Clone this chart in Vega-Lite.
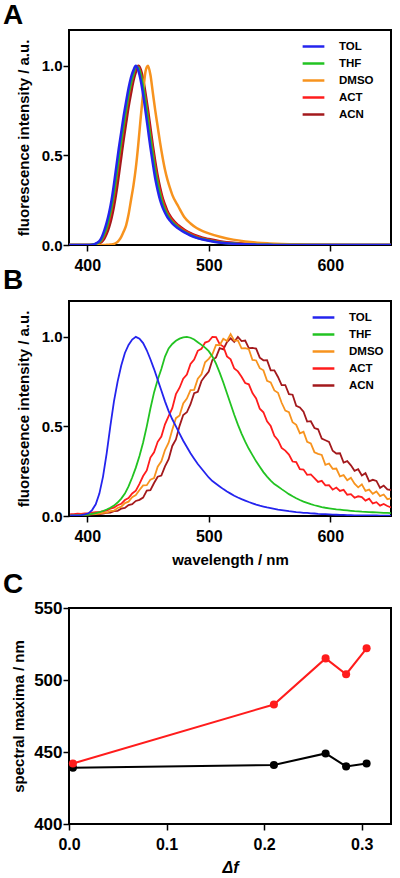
{
"$schema": "https://vega.github.io/schema/vega-lite/v6.json",
"padding": {"left": 2, "top": 1, "right": 0, "bottom": 0},
"background": "white",
"datasets": {
"a": [
{"w":385,"TOL":0,"THF":0,"DMSO":0,"ACT":0,"ACN":0},
{"w":395,"TOL":0,"THF":0,"DMSO":0,"ACT":0,"ACN":0},
{"w":400,"TOL":0,"THF":0,"DMSO":0,"ACT":0,"ACN":0},
{"w":404,"TOL":0.002,"THF":0.001,"DMSO":0,"ACT":0.001,"ACN":0},
{"w":406,"TOL":0.005,"THF":0.004,"DMSO":0,"ACT":0.003,"ACN":0.002},
{"w":408,"TOL":0.012,"THF":0.009,"DMSO":0,"ACT":0.007,"ACN":0.005},
{"w":410,"TOL":0.022,"THF":0.017,"DMSO":0,"ACT":0.014,"ACN":0.01},
{"w":412,"TOL":0.045,"THF":0.033,"DMSO":0,"ACT":0.027,"ACN":0.018},
{"w":414,"TOL":0.08,"THF":0.062,"DMSO":0,"ACT":0.052,"ACN":0.035},
{"w":416,"TOL":0.125,"THF":0.1,"DMSO":0.001,"ACT":0.09,"ACN":0.062},
{"w":418,"TOL":0.18,"THF":0.152,"DMSO":0.002,"ACT":0.135,"ACN":0.1},
{"w":420,"TOL":0.25,"THF":0.215,"DMSO":0.003,"ACT":0.195,"ACN":0.15},
{"w":422,"TOL":0.34,"THF":0.295,"DMSO":0.006,"ACT":0.27,"ACN":0.215},
{"w":424,"TOL":0.44,"THF":0.39,"DMSO":0.012,"ACT":0.365,"ACN":0.295},
{"w":426,"TOL":0.54,"THF":0.49,"DMSO":0.025,"ACT":0.465,"ACN":0.39},
{"w":428,"TOL":0.63,"THF":0.585,"DMSO":0.045,"ACT":0.565,"ACN":0.49},
{"w":430,"TOL":0.72,"THF":0.675,"DMSO":0.075,"ACT":0.655,"ACN":0.59},
{"w":432,"TOL":0.8,"THF":0.76,"DMSO":0.11,"ACT":0.745,"ACN":0.68},
{"w":434,"TOL":0.875,"THF":0.84,"DMSO":0.17,"ACT":0.825,"ACN":0.77},
{"w":436,"TOL":0.935,"THF":0.905,"DMSO":0.25,"ACT":0.895,"ACN":0.845},
{"w":438,"TOL":0.975,"THF":0.955,"DMSO":0.33,"ACT":0.95,"ACN":0.915},
{"w":440,"TOL":1.0,"THF":0.997,"DMSO":0.43,"ACT":0.99,"ACN":0.965},
{"w":442,"TOL":0.975,"THF":0.99,"DMSO":0.56,"ACT":0.995,"ACN":1.0},
{"w":444,"TOL":0.92,"THF":0.95,"DMSO":0.71,"ACT":0.96,"ACN":0.98},
{"w":446,"TOL":0.84,"THF":0.88,"DMSO":0.85,"ACT":0.895,"ACN":0.925},
{"w":448,"TOL":0.745,"THF":0.795,"DMSO":0.97,"ACT":0.815,"ACN":0.845},
{"w":450,"TOL":0.645,"THF":0.695,"DMSO":1.0,"ACT":0.72,"ACN":0.755},
{"w":452,"TOL":0.545,"THF":0.595,"DMSO":0.95,"ACT":0.62,"ACN":0.655},
{"w":454,"TOL":0.455,"THF":0.5,"DMSO":0.85,"ACT":0.525,"ACN":0.555},
{"w":456,"TOL":0.37,"THF":0.41,"DMSO":0.75,"ACT":0.435,"ACN":0.465},
{"w":458,"TOL":0.305,"THF":0.34,"DMSO":0.66,"ACT":0.36,"ACN":0.385},
{"w":460,"TOL":0.25,"THF":0.28,"DMSO":0.57,"ACT":0.3,"ACN":0.32},
{"w":462,"TOL":0.21,"THF":0.23,"DMSO":0.49,"ACT":0.25,"ACN":0.265},
{"w":464,"TOL":0.18,"THF":0.195,"DMSO":0.42,"ACT":0.21,"ACN":0.225},
{"w":466,"TOL":0.155,"THF":0.167,"DMSO":0.365,"ACT":0.18,"ACN":0.19},
{"w":468,"TOL":0.137,"THF":0.146,"DMSO":0.32,"ACT":0.157,"ACN":0.165},
{"w":470,"TOL":0.12,"THF":0.128,"DMSO":0.28,"ACT":0.138,"ACN":0.145},
{"w":475,"TOL":0.092,"THF":0.097,"DMSO":0.215,"ACT":0.105,"ACN":0.11},
{"w":480,"TOL":0.07,"THF":0.074,"DMSO":0.155,"ACT":0.081,"ACN":0.085},
{"w":485,"TOL":0.053,"THF":0.056,"DMSO":0.12,"ACT":0.062,"ACN":0.066},
{"w":490,"TOL":0.04,"THF":0.042,"DMSO":0.095,"ACT":0.048,"ACN":0.052},
{"w":495,"TOL":0.031,"THF":0.033,"DMSO":0.078,"ACT":0.037,"ACN":0.041},
{"w":500,"TOL":0.024,"THF":0.026,"DMSO":0.065,"ACT":0.029,"ACN":0.033},
{"w":510,"TOL":0.013,"THF":0.014,"DMSO":0.045,"ACT":0.017,"ACN":0.02},
{"w":520,"TOL":0.007,"THF":0.008,"DMSO":0.03,"ACT":0.01,"ACN":0.012},
{"w":530,"TOL":0.004,"THF":0.004,"DMSO":0.02,"ACT":0.006,"ACN":0.007},
{"w":540,"TOL":0.002,"THF":0.002,"DMSO":0.013,"ACT":0.003,"ACN":0.004},
{"w":550,"TOL":0.001,"THF":0.001,"DMSO":0.009,"ACT":0.002,"ACN":0.002},
{"w":560,"TOL":0,"THF":0,"DMSO":0.006,"ACT":0.001,"ACN":0.001},
{"w":580,"TOL":0,"THF":0,"DMSO":0.003,"ACT":0,"ACN":0},
{"w":600,"TOL":0,"THF":0,"DMSO":0.001,"ACT":0,"ACN":0},
{"w":620,"TOL":0,"THF":0,"DMSO":0,"ACT":0,"ACN":0},
{"w":650,"TOL":0,"THF":0,"DMSO":0,"ACT":0,"ACN":0}
],
"b": [
{"w":386,"TOL":0.003,"THF":0.002,"DMSO":0.004,"ACT":0.010,"ACN":0.003},
{"w":389,"TOL":0.004,"THF":0.003,"DMSO":0.005,"ACT":0.011,"ACN":0.004},
{"w":392,"TOL":0.004,"THF":0.004,"DMSO":0.006,"ACT":0.013,"ACN":0.004},
{"w":395,"TOL":0.005,"THF":0.005,"DMSO":0.007,"ACT":0.012,"ACN":0.005},
{"w":398,"TOL":0.009,"THF":0.006,"DMSO":0.008,"ACT":0.015,"ACN":0.006},
{"w":401,"TOL":0.015,"THF":0.008,"DMSO":0.009,"ACT":0.015,"ACN":0.008},
{"w":404,"TOL":0.033,"THF":0.012,"DMSO":0.011,"ACT":0.019,"ACN":0.008},
{"w":407,"TOL":0.065,"THF":0.016,"DMSO":0.011,"ACT":0.021,"ACN":0.010},
{"w":410,"TOL":0.125,"THF":0.021,"DMSO":0.013,"ACT":0.021,"ACN":0.011},
{"w":413,"TOL":0.22,"THF":0.028,"DMSO":0.017,"ACT":0.027,"ACN":0.014},
{"w":416,"TOL":0.35,"THF":0.036,"DMSO":0.019,"ACT":0.030,"ACN":0.017},
{"w":419,"TOL":0.50,"THF":0.046,"DMSO":0.027,"ACT":0.041,"ACN":0.019},
{"w":422,"TOL":0.64,"THF":0.058,"DMSO":0.030,"ACT":0.047,"ACN":0.027},
{"w":425,"TOL":0.75,"THF":0.075,"DMSO":0.045,"ACT":0.060,"ACN":0.029},
{"w":428,"TOL":0.84,"THF":0.097,"DMSO":0.052,"ACT":0.068,"ACN":0.041},
{"w":431,"TOL":0.91,"THF":0.125,"DMSO":0.072,"ACT":0.089,"ACN":0.045},
{"w":434,"TOL":0.955,"THF":0.165,"DMSO":0.080,"ACT":0.100,"ACN":0.061},
{"w":437,"TOL":0.985,"THF":0.215,"DMSO":0.105,"ACT":0.126,"ACN":0.066},
{"w":440,"TOL":1.0,"THF":0.27,"DMSO":0.117,"ACT":0.141,"ACN":0.084},
{"w":443,"TOL":0.99,"THF":0.335,"DMSO":0.145,"ACT":0.179,"ACN":0.090},
{"w":446,"TOL":0.965,"THF":0.41,"DMSO":0.171,"ACT":0.223,"ACN":0.103},
{"w":449,"TOL":0.925,"THF":0.50,"DMSO":0.172,"ACT":0.254,"ACN":0.142},
{"w":452,"TOL":0.875,"THF":0.60,"DMSO":0.203,"ACT":0.326,"ACN":0.144},
{"w":455,"TOL":0.82,"THF":0.69,"DMSO":0.212,"ACT":0.356,"ACN":0.184},
{"w":458,"TOL":0.76,"THF":0.76,"DMSO":0.275,"ACT":0.414,"ACN":0.219},
{"w":461,"TOL":0.70,"THF":0.82,"DMSO":0.305,"ACT":0.443,"ACN":0.226},
{"w":464,"TOL":0.64,"THF":0.89,"DMSO":0.368,"ACT":0.512,"ACN":0.277},
{"w":467,"TOL":0.585,"THF":0.935,"DMSO":0.409,"ACT":0.557,"ACN":0.317},
{"w":470,"TOL":0.54,"THF":0.96,"DMSO":0.482,"ACT":0.602,"ACN":0.391},
{"w":473,"TOL":0.50,"THF":0.978,"DMSO":0.546,"ACT":0.680,"ACN":0.427},
{"w":476,"TOL":0.46,"THF":0.99,"DMSO":0.561,"ACT":0.716,"ACN":0.503},
{"w":479,"TOL":0.42,"THF":0.997,"DMSO":0.628,"ACT":0.766,"ACN":0.564},
{"w":482,"TOL":0.385,"THF":1.0,"DMSO":0.655,"ACT":0.789,"ACN":0.579},
{"w":485,"TOL":0.35,"THF":0.995,"DMSO":0.703,"ACT":0.849,"ACN":0.624},
{"w":488,"TOL":0.32,"THF":0.985,"DMSO":0.704,"ACT":0.873,"ACN":0.685},
{"w":491,"TOL":0.29,"THF":0.97,"DMSO":0.766,"ACT":0.922,"ACN":0.693},
{"w":494,"TOL":0.265,"THF":0.955,"DMSO":0.791,"ACT":0.933,"ACN":0.753},
{"w":497,"TOL":0.24,"THF":0.94,"DMSO":0.858,"ACT":0.968,"ACN":0.781},
{"w":500,"TOL":0.215,"THF":0.92,"DMSO":0.877,"ACT":0.975,"ACN":0.806},
{"w":503,"TOL":0.195,"THF":0.89,"DMSO":0.903,"ACT":1.0,"ACN":0.871},
{"w":506,"TOL":0.18,"THF":0.85,"DMSO":0.955,"ACT":0.998,"ACN":0.885},
{"w":509,"TOL":0.165,"THF":0.80,"DMSO":0.953,"ACT":0.959,"ACN":0.937},
{"w":512,"TOL":0.15,"THF":0.745,"DMSO":0.989,"ACT":0.946,"ACN":0.930},
{"w":515,"TOL":0.137,"THF":0.685,"DMSO":0.977,"ACT":0.891,"ACN":0.971},
{"w":518,"TOL":0.125,"THF":0.625,"DMSO":1.015,"ACT":0.874,"ACN":0.992},
{"w":521,"TOL":0.113,"THF":0.565,"DMSO":0.979,"ACT":0.823,"ACN":0.972},
{"w":524,"TOL":0.103,"THF":0.51,"DMSO":0.980,"ACT":0.807,"ACN":0.999},
{"w":527,"TOL":0.094,"THF":0.46,"DMSO":0.936,"ACT":0.777,"ACN":0.976},
{"w":530,"TOL":0.086,"THF":0.415,"DMSO":0.937,"ACT":0.742,"ACN":0.979},
{"w":533,"TOL":0.078,"THF":0.375,"DMSO":0.931,"ACT":0.735,"ACN":0.937},
{"w":536,"TOL":0.071,"THF":0.34,"DMSO":0.871,"ACT":0.686,"ACN":0.938},
{"w":539,"TOL":0.064,"THF":0.305,"DMSO":0.868,"ACT":0.656,"ACN":0.934},
{"w":542,"TOL":0.058,"THF":0.275,"DMSO":0.825,"ACT":0.599,"ACN":0.884},
{"w":545,"TOL":0.053,"THF":0.245,"DMSO":0.813,"ACT":0.579,"ACN":0.869},
{"w":548,"TOL":0.048,"THF":0.22,"DMSO":0.754,"ACT":0.528,"ACN":0.870},
{"w":551,"TOL":0.044,"THF":0.198,"DMSO":0.746,"ACT":0.502,"ACN":0.813},
{"w":554,"TOL":0.040,"THF":0.178,"DMSO":0.701,"ACT":0.448,"ACN":0.813},
{"w":557,"TOL":0.036,"THF":0.165,"DMSO":0.688,"ACT":0.423,"ACN":0.776},
{"w":560,"TOL":0.033,"THF":0.15,"DMSO":0.632,"ACT":0.380,"ACN":0.731},
{"w":563,"TOL":0.030,"THF":0.136,"DMSO":0.588,"ACT":0.365,"ACN":0.731},
{"w":566,"TOL":0.027,"THF":0.122,"DMSO":0.580,"ACT":0.343,"ACN":0.680},
{"w":569,"TOL":0.025,"THF":0.11,"DMSO":0.523,"ACT":0.304,"ACN":0.677},
{"w":572,"TOL":0.022,"THF":0.099,"DMSO":0.509,"ACT":0.301,"ACN":0.615},
{"w":575,"TOL":0.020,"THF":0.089,"DMSO":0.462,"ACT":0.261,"ACN":0.606},
{"w":578,"TOL":0.018,"THF":0.08,"DMSO":0.470,"ACT":0.259,"ACN":0.582},
{"w":581,"TOL":0.017,"THF":0.073,"DMSO":0.414,"ACT":0.230,"ACN":0.527},
{"w":584,"TOL":0.015,"THF":0.066,"DMSO":0.405,"ACT":0.232,"ACN":0.529},
{"w":587,"TOL":0.014,"THF":0.06,"DMSO":0.356,"ACT":0.212,"ACN":0.491},
{"w":590,"TOL":0.012,"THF":0.055,"DMSO":0.347,"ACT":0.190,"ACN":0.484},
{"w":593,"TOL":0.011,"THF":0.05,"DMSO":0.341,"ACT":0.196,"ACN":0.432},
{"w":596,"TOL":0.010,"THF":0.046,"DMSO":0.286,"ACT":0.171,"ACN":0.423},
{"w":599,"TOL":0.009,"THF":0.043,"DMSO":0.293,"ACT":0.172,"ACN":0.414},
{"w":602,"TOL":0.008,"THF":0.04,"DMSO":0.263,"ACT":0.147,"ACN":0.364},
{"w":605,"TOL":0.007,"THF":0.037,"DMSO":0.265,"ACT":0.159,"ACN":0.349},
{"w":608,"TOL":0.006,"THF":0.035,"DMSO":0.221,"ACT":0.140,"ACN":0.350},
{"w":611,"TOL":0.006,"THF":0.033,"DMSO":0.228,"ACT":0.146,"ACN":0.298},
{"w":614,"TOL":0.005,"THF":0.031,"DMSO":0.199,"ACT":0.119,"ACN":0.306},
{"w":617,"TOL":0.005,"THF":0.029,"DMSO":0.213,"ACT":0.122,"ACN":0.283},
{"w":620,"TOL":0.004,"THF":0.027,"DMSO":0.180,"ACT":0.102,"ACN":0.252},
{"w":623,"TOL":0.004,"THF":0.026,"DMSO":0.160,"ACT":0.110,"ACN":0.261},
{"w":626,"TOL":0.004,"THF":0.024,"DMSO":0.177,"ACT":0.106,"ACN":0.226},
{"w":629,"TOL":0.003,"THF":0.023,"DMSO":0.140,"ACT":0.086,"ACN":0.239},
{"w":632,"TOL":0.003,"THF":0.022,"DMSO":0.147,"ACT":0.097,"ACN":0.194},
{"w":635,"TOL":0.003,"THF":0.021,"DMSO":0.124,"ACT":0.070,"ACN":0.202},
{"w":638,"TOL":0.003,"THF":0.02,"DMSO":0.137,"ACT":0.077,"ACN":0.196},
{"w":641,"TOL":0.002,"THF":0.019,"DMSO":0.111,"ACT":0.058,"ACN":0.157},
{"w":644,"TOL":0.002,"THF":0.018,"DMSO":0.120,"ACT":0.067,"ACN":0.170},
{"w":647,"TOL":0.002,"THF":0.017,"DMSO":0.094,"ACT":0.056,"ACN":0.148},
{"w":650,"TOL":0.002,"THF":0.016,"DMSO":0.098,"ACT":0.048,"ACN":0.145}
],
"c": [
{"solvent":"TOL","df":0.004,"abs":439,"em":442},
{"solvent":"THF","df":0.21,"abs":441,"em":483},
{"solvent":"DMSO","df":0.263,"abs":449,"em":515},
{"solvent":"ACT","df":0.284,"abs":440,"em":504},
{"solvent":"ACN","df":0.305,"abs":442,"em":522}
]
},
"config": {
"font": "Liberation Sans",
"view": {"stroke": "black", "strokeWidth": 2},
"axis": {"domain": false, "grid": false, "ticks": true, "labelFlush": false, "tickColor": "black", "tickWidth": 1.5, "tickSize": 6, "labelFont": "Liberation Sans", "labelFontWeight": "bold", "labelColor": "black", "labelFontSize": 16, "titleFont": "Liberation Sans", "titleFontWeight": "bold", "titleColor": "black", "titleFontSize": 15},
"legend": {"symbolType": "M-1.5,0H1.5", "symbolSize": 210, "symbolStrokeWidth": 2.5, "labelFont": "Liberation Sans", "labelFontSize": 11.5, "labelFontWeight": "bold", "labelColor": "black", "labelOffset": 17, "rowPadding": 3, "padding": 0},
"title": {"anchor": "start", "frame": "group", "dx": -66, "fontSize": 28, "fontWeight": "bold", "font": "Liberation Sans", "baseline": "alphabetic", "color": "black"}
},
"bounds": "flush",
"spacing": 56,
"resolve": {"scale": {"color": "independent"}, "legend": {"color": "independent"}},
"vconcat": [
{
"width": 322, "height": 215,
"title": {"text": "A", "offset": 0},
"data": {"name": "a"},
"transform": [{"fold": ["ACN","ACT","DMSO","THF","TOL"], "as": ["s","v"]}],
"mark": {"type": "line", "strokeWidth": 2.5, "clip": true, "interpolate": "monotone"},
"encoding": {
"x": {"field": "w", "type": "quantitative", "scale": {"domain": [385, 650], "nice": false, "zero": false}, "axis": {"values": [400, 500, 600], "title": null, "labelPadding": 6}},
"y": {"field": "v", "type": "quantitative", "scale": {"domain": [0, 1.2], "nice": false}, "axis": {"values": [0, 0.5, 1], "format": ".1f", "title": "fluorescence intensity / a.u.", "labelFontSize": 15, "labelPadding": 1, "titlePadding": 10}},
"color": {"field": "s", "type": "nominal", "scale": {"domain": ["TOL","THF","DMSO","ACT","ACN"], "range": ["#2424ee","#22c322","#f7931e","#ff1c1c","#a3191c"]}, "legend": {"orient": "none", "legendX": 236, "legendY": 8, "title": null}}
}
},
{
"bounds": "flush",
"spacing": 92,
"resolve": {"scale": {"color": "independent"}, "legend": {"color": "independent"}},
"vconcat": [
{
"width": 322, "height": 215,
"title": {"text": "B", "offset": 6},
"data": {"name": "b"},
"transform": [{"fold": ["ACN","ACT","DMSO","THF","TOL"], "as": ["s","v"]}],
"mark": {"type": "line", "strokeWidth": 1.8, "clip": true},
"encoding": {
"x": {"field": "w", "type": "quantitative", "scale": {"domain": [385, 650], "nice": false, "zero": false}, "axis": {"values": [400, 500, 600], "title": "wavelength / nm", "labelPadding": 6, "titlePadding": 8}},
"y": {"field": "v", "type": "quantitative", "scale": {"domain": [0, 1.2], "nice": false}, "axis": {"values": [0, 0.5, 1], "format": ".1f", "title": "fluorescence intensity / a.u.", "labelFontSize": 15, "labelPadding": 1, "titlePadding": 10}},
"color": {"field": "s", "type": "nominal", "scale": {"domain": ["TOL","THF","DMSO","ACT","ACN"], "range": ["#2424ee","#22c322","#f7931e","#ff1c1c","#a3191c"]}, "legend": {"orient": "none", "legendX": 246, "legendY": 8, "title": null}}
}
},
{
"width": 322, "height": 216,
"title": {"text": "C", "offset": 0},
"data": {"name": "c"},
"transform": [{"fold": ["abs","em"], "as": ["k","val"]}],
"encoding": {
"x": {"field": "df", "type": "quantitative", "scale": {"domain": [0, 0.33], "nice": false}, "axis": {"values": [0, 0.1, 0.2, 0.3], "format": ".1f", "title": "Δf", "titleFontStyle": "italic", "titleFontSize": 16, "labelPadding": 6, "titlePadding": 7}},
"y": {"field": "val", "type": "quantitative", "scale": {"domain": [400, 550], "nice": false, "zero": false}, "axis": {"values": [400, 450, 500, 550], "title": "spectral maxima / nm", "labelFontSize": 17, "labelPadding": 1, "titlePadding": 7}},
"color": {"field": "k", "type": "nominal", "scale": {"domain": ["abs","em"], "range": ["#000000","#ff1c1c"]}, "legend": null}
},
"layer": [
{"mark": {"type": "line", "strokeWidth": 2}},
{"mark": {"type": "point", "filled": true, "size": 65, "opacity": 1}}
]
}
]
}
]
}
